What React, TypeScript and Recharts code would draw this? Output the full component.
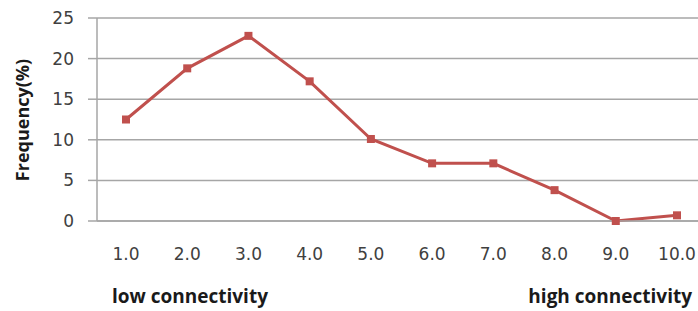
import { LineChart, Line, XAxis, YAxis, CartesianGrid, Label } from "recharts";

const levels = ["1.0", "2.0", "3.0", "4.0", "5.0", "6.0", "7.0", "8.0", "9.0", "10.0"];
const frequency = [12.5, 18.8, 22.8, 17.2, 10.1, 7.1, 7.1, 3.8, 0, 0.7];
const yTicks = [0, 5, 10, 15, 20, 25];
const lowLabel = "low connectivity";
const highLabel = "high connectivity";
const yTitle = "Frequency(%)";

const data = levels.map((level, i) => ({ level, value: frequency[i] }));

const RED = "#c0504d";
const GRID = "#a6a6a6";
const TICK_FONT = "'DejaVu Sans', Verdana, sans-serif";
const LABEL_FONT = "'Open Sans', 'Noto Sans', sans-serif";

function SquareDot(props: any) {
  const { cx, cy } = props;
  if (cx == null || cy == null) return null;
  return <rect x={cx - 4} y={cy - 4} width={8} height={8} fill={RED} />;
}

function EndLabels() {
  const y = 303;
  return (
    <g fontFamily={LABEL_FONT} fontWeight={700} fontSize={19} fill="#1a1a1a">
      <text x={112} y={y}>{lowLabel}</text>
      <text x={692} y={y} textAnchor="end">{highLabel}</text>
    </g>
  );
}

function YTitle() {
  return (
    <text
      x={0}
      y={0}
      transform="translate(29 120) rotate(-90)"
      textAnchor="middle"
      fontFamily={LABEL_FONT}
      fontWeight={700}
      fontSize={18}
      fill="#1a1a1a"
    >
      {yTitle}
    </text>
  );
}

export default function App() {
  return (
    <div
      style={{
        position: "absolute",
        left: 0,
        top: 0,
        width: 698,
        height: 311,
        overflow: "hidden",
        background: "#fff",
      }}
    >
      <LineChart
        width={720}
        height={311}
        data={data}
        margin={{ top: 18, right: 13, bottom: 50, left: 0 }}
      >
        <CartesianGrid vertical={false} stroke={GRID} strokeWidth={1.5} />
        <XAxis
          dataKey="level"
          height={40}
          padding={{ left: 29, right: 30 }}
          axisLine={{ stroke: GRID, strokeWidth: 1.5 }}
          tickLine={false}
          tickSize={0}
          tickMargin={27}
          interval={0}
          tick={{ fill: "#404040", fontSize: 17, fontFamily: TICK_FONT }}
        >
          <Label content={<EndLabels />} />
        </XAxis>
        <YAxis
          width={97}
          domain={[0, 25]}
          ticks={yTicks}
          interval={0}
          axisLine={{ stroke: GRID, strokeWidth: 1.5 }}
          tickLine={{ stroke: GRID, strokeWidth: 1.5 }}
          tickSize={9}
          tickMargin={14}
          tick={{ fill: "#404040", fontSize: 17, fontFamily: TICK_FONT }}
        >
          <Label content={<YTitle />} />
        </YAxis>
        <Line
          type="linear"
          dataKey="value"
          stroke={RED}
          strokeWidth={3}
          dot={<SquareDot />}
          activeDot={false}
          isAnimationActive={false}
        />
      </LineChart>
    </div>
  );
}
